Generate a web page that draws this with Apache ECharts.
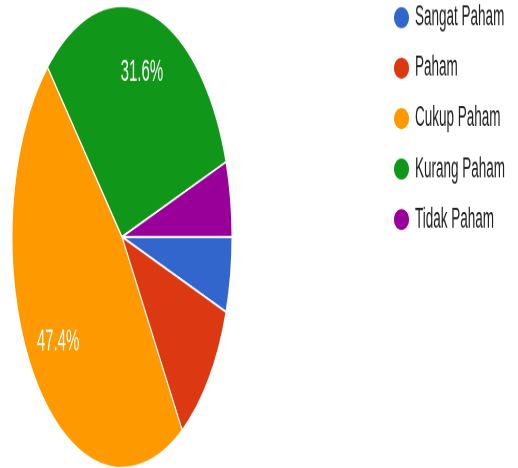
<!DOCTYPE html>
<html>
<head>
<meta charset="utf-8">
<script src="https://cdn.jsdelivr.net/npm/echarts@6/dist/echarts.min.js"></script>
<style>
html, body { margin: 0; padding: 0; background: #fff; }
body { height: 468px; }
/* the reference is stretched vertically, so draw flat and stretch */
#chart { width: 518px; height: 223px; transform: scaleY(2.0987); transform-origin: 0 0; }
</style>
</head>
<body>
<div id="chart"></div>
<script>
var categories = ['Sangat Paham', 'Paham', 'Cukup Paham', 'Kurang Paham', 'Tidak Paham']
var counts = [1, 2, 9, 6, 1]
var colors = ['#3366cc', '#dc3912', '#ff9900', '#109618', '#990099']

var pieData = categories.map(function (name, i) {
	return { name: name, value: counts[i] }
})

var myChart = echarts.init(document.getElementById('chart'), null, { devicePixelRatio: 2 })

// wide ellipse, becomes a tall dot after the vertical stretch
var dot = 'path://M0,6 A8.5,6 0 1,1 17,6 A8.5,6 0 1,1 0,6 Z'

myChart.setOption({
	animation: false,
	color: colors,
	legend: {
		orient: 'vertical',
		left: 392,
		top: 1.4,
		padding: 0,
		itemWidth: 17,
		itemHeight: 12,
		itemGap: 10.05,
		icon: dot,
		selectedMode: false,
		textStyle: {
			fontFamily: 'Liberation Sans, Arial, sans-serif',
			fontSize: 13.5,
			color: '#222'
		},
		data: categories
	},
	series: [
		{
			name: 'jawaban',
			type: 'pie',
			center: [122, 112.9],
			radius: 110,
			startAngle: 0,
			clockwise: true,
			silent: true,
			data: pieData,
			itemStyle: { borderColor: '#fff', borderWidth: 1 },
			label: { show: false },
			labelLine: { show: false }
		},
		{
			// transparent copy, only used to place the percent labels further out
			name: 'label',
			type: 'pie',
			center: [122, 112.9],
			radius: [46, 110],
			startAngle: 0,
			clockwise: true,
			silent: true,
			percentPrecision: 1,
			data: pieData,
			itemStyle: { color: 'rgba(0,0,0,0)' },
			label: {
				show: true,
				position: 'inside',
				color: '#fff',
				fontFamily: 'Liberation Sans, Arial, sans-serif',
				fontSize: 15,
				formatter: function (p) {
					return p.percent > 20 ? p.percent.toFixed(1) + '%' : ''
				}
			},
			labelLine: { show: false }
		}
	]
})
</script>
</body>
</html>
